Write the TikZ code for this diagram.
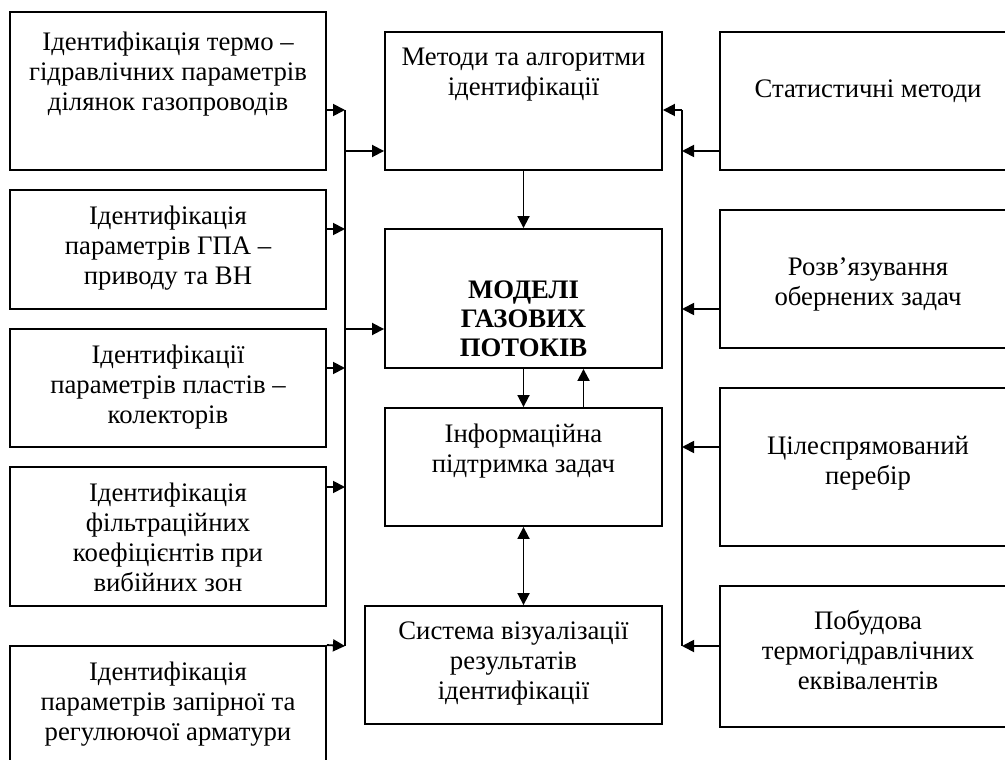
\documentclass[tikz,border=0pt]{standalone}
\usepackage{fontspec}
\setmainfont{Liberation Serif}
\usetikzlibrary{arrows.meta, positioning}

\begin{document}
\begin{tikzpicture}[x=0.025cm, y=-0.025cm, line width=1.3pt,
    lbox/.style={draw, rectangle, minimum width=7.9cm},
    cbox/.style={draw, rectangle, minimum width=6.925cm},
    rbox/.style={draw, rectangle, minimum width=7.4cm},
    txt/.style={anchor=north, align=center, inner sep=0pt,
      font=\fontsize{19}{21.3}\selectfont},
    arr/.style={-{Triangle[length=0.3cm, width=0.3cm]}}]
  \clip (0,0) rectangle (1005,760);

  % left column
  \node (id1) [lbox, minimum height=3.95cm, label={[txt, yshift=-0.5cm]north:{Ідентифікація термо –\\гідравлічних параметрів\\ділянок газопроводів}}] at (168,91) {};
  \node (id2) [lbox, minimum height=2.975cm, label={[txt, yshift=-0.4cm]north:{Ідентифікація\\параметрів ГПА –\\приводу та ВН}}] at (168,249.5) {};
  \node (id3) [lbox, minimum height=2.95cm, label={[txt, yshift=-0.4cm]north:{Ідентифікації\\параметрів пластів –\\колекторів}}] at (168,388) {};
  \node (id4) [lbox, minimum height=3.475cm, label={[txt, yshift=-0.4cm]north:{Ідентифікація\\фільтраційних\\коефіцієнтів при\\вибійних зон}}] at (168,536.5) {};
  \node (id5) [lbox, minimum height=3.85cm, label={[txt, yshift=-0.4cm]north:{Ідентифікація\\параметрів запірної та\\регулюючої арматури}}] at (168,723) {};

  % centre column
  \node (meth) [cbox, minimum height=3.45cm, label={[txt, yshift=-0.4cm]north:{Методи та алгоритми\\ідентифікації}}] at (523.5,101) {};
  \node (model) [cbox, minimum height=3.475cm, label={[txt, yshift=-1.3cm, font=\fontsize{19}{20.5}\selectfont\bfseries]north:{МОДЕЛІ\\ГАЗОВИХ\\ПОТОКІВ}}] at (523.5,298.5) {};
  \node (info) [cbox, minimum height=2.95cm, label={[txt, yshift=-0.4cm]north:{Інформаційна\\підтримка задач}}] at (523.5,467) {};
  \node (vis) [draw, rectangle, minimum width=7.425cm, minimum height=2.95cm, label={[txt, yshift=-0.4cm]north:{Система візуалізації\\результатів\\ідентифікації}}] at (513.5,665) {};

  % right column
  \node (stat) [rbox, minimum height=3.45cm, label={[txt, yshift=-1.2cm]north:{Статистичні методи}}] at (868,101) {};
  \node (inv) [rbox, minimum height=3.45cm, label={[txt, yshift=-1.2cm]north:{Розв’язування\\обернених задач}}] at (868,279) {};
  \node (srch) [rbox, minimum height=3.95cm, label={[txt, yshift=-1.2cm]north:{Цілеспрямований\\перебір}}] at (868,467) {};
  \node (equiv) [rbox, minimum height=3.525cm, label={[txt, yshift=-0.6cm]north:{Побудова\\термогідравлічних\\еквівалентів}}] at (868,656.5) {};

  % buses
  \coordinate (lb1) at (345,110);
  \coordinate (lb2) at (345,229);
  \coordinate (lb3) at (345,368);
  \coordinate (lb4) at (345,487);
  \coordinate (lb5) at (345,646);
  \coordinate (lm) at (345,151);
  \coordinate (lg) at (345,329);
  \coordinate (rb0) at (682,110);
  \coordinate (rb1) at (682,151);
  \coordinate (rb2) at (682,309);
  \coordinate (rb3) at (682,447);
  \coordinate (rb4) at (682,646);
  \draw (lb1) -- (lb5);
  \draw (rb0) -- (rb4);

  \path [arr]
    (id1.east |- lb1) edge (lb1)
    (id2.east |- lb2) edge (lb2)
    (id3.east |- lb3) edge (lb3)
    (id4.east |- lb4) edge (lb4)
    (id5.north east) edge (lb5)
    (lm) edge (meth.west |- lm)
    (lg) edge (model.west |- lg)
    (rb0) edge (meth.east |- rb0)
    (stat.west |- rb1) edge (rb1)
    (inv.west |- rb2) edge (rb2)
    (srch.west |- rb3) edge (rb3)
    (equiv.west |- rb4) edge (rb4)
    (meth.south) edge (model.north)
    (model.south) edge (info.north)
    ([xshift=1.5cm]info.north) edge ([xshift=1.5cm]model.south);
  \draw [{Triangle[length=0.3cm, width=0.3cm]}-{Triangle[length=0.3cm, width=0.3cm]}] (info.south) -- (info.south |- vis.north);
\end{tikzpicture}
\end{document}
